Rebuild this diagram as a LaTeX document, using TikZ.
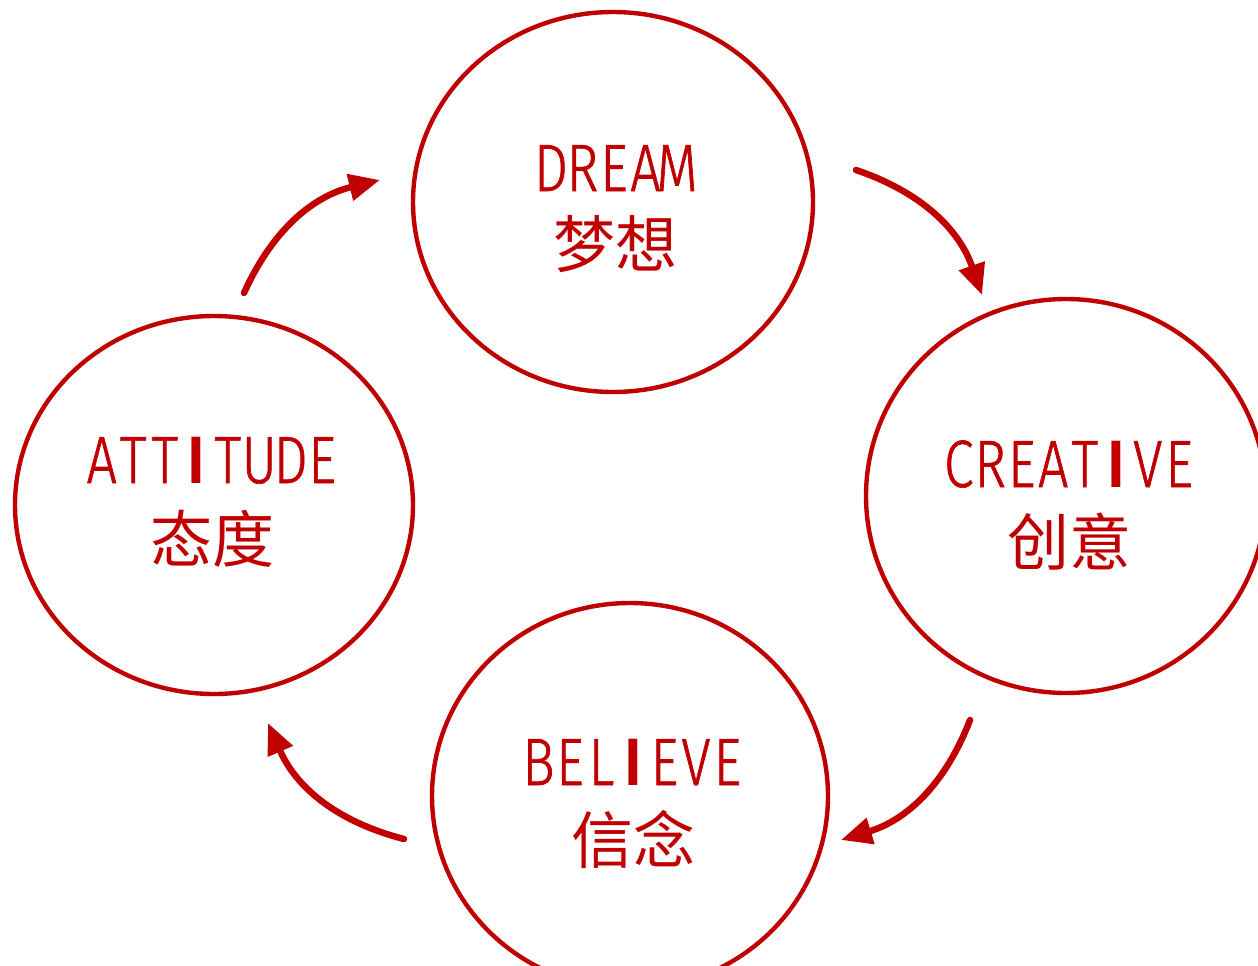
\documentclass[tikz,border=0pt]{standalone}
\usepackage{fontspec}
\usetikzlibrary{shapes.geometric,arrows.meta}
\newfontfamily\labfont{Noto Sans Mono CJK SC}
\newfontfamily\latfont{Fira Sans Light}[FakeStretch=0.8,FakeBold=1]
\newfontfamily\latbar{Fira Sans Medium}
\newcommand\cl[1]{\makebox[31.5pt]{#1}}
\newcommand\ibar{\makebox[31.5pt]{\latbar I}}
\definecolor{dred}{HTML}{C00000}
\tikzset{
  ring/.style={draw=dred, line width=4.4pt, ellipse, inner sep=0pt, minimum width=#1},
  en/.style={text=dred, anchor=base, inner sep=0pt, font=\latfont\fontsize{67}{70}\selectfont},
  cn/.style={text=dred, anchor=base, inner sep=0pt, font=\labfont\fontsize{62}{70}\selectfont},
  flow/.style={draw=dred, line width=6.5pt, line cap=round, bend left=26,
    -{Triangle[length=31pt,width=26pt]}},
}
\begin{document}
\begin{tikzpicture}[x=1pt,y=-1pt]
\useasboundingbox (0,0) rectangle (1258,966);
\node[ring=400pt, minimum height=380pt] (dream) at (613,202) {};
\node[ring=398pt, minimum height=378pt] (attitude) at (214,505) {};
\node[ring=400pt, minimum height=394pt] (creative) at (1066,496) {};
\node[ring=396pt, minimum height=386pt] (believe) at (630,796) {};
\node[en] (dreamE) at (614,191) {\cl D\cl R\cl E\cl A\cl M};
\node[cn] (dreamC) at (615,267) {梦想};
\node[en] (attE) at (212,483) {\cl A\cl T\cl T\ibar\cl T\cl U\cl D\cl E};
\node[cn] (attC) at (212,562) {态度};
\node[en] (creE) at (1069,487) {\cl C\cl R\cl E\cl A\cl T\ibar\cl V\cl E};
\node[cn] (creC) at (1069,565) {创意};
\node[en] (belE) at (633,785) {\cl B\cl E\cl L\ibar\cl E\cl V\cl E};
\node[cn] (belC) at (633,863) {信念};
\coordinate (a1s) at (244,293); \coordinate (a1e) at (380,180);
\coordinate (a2s) at (856,170); \coordinate (a2e) at (982,295);
\coordinate (a3s) at (970,720); \coordinate (a3e) at (841,840);
\coordinate (a4s) at (404,839); \coordinate (a4e) at (268,723);
\draw[flow] (a1s) to (a1e);
\draw[flow] (a2s) to (a2e);
\draw[flow] (a3s) to (a3e);
\draw[flow] (a4s) to (a4e);
\end{tikzpicture}
\end{document}
